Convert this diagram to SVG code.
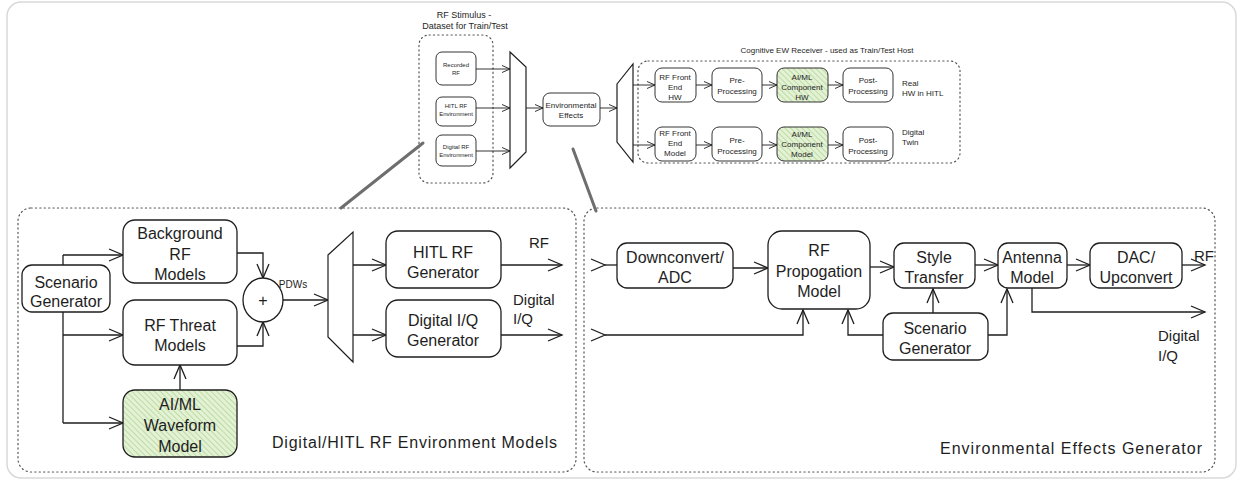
<svg xmlns="http://www.w3.org/2000/svg" width="1238" height="482" viewBox="0 0 1238 482">
  <style>
    .frame { fill: #ffffff; stroke: #d9d9d9; stroke-width: 1.5; }
    .group { fill: none; stroke: #555; stroke-width: 1.2; stroke-dasharray: 1.2 3.2; stroke-linecap: round; }
    .box { fill: #ffffff; stroke: #1e1e1e; stroke-width: 1.3; }
    .sbox { fill: #ffffff; stroke: #1e1e1e; stroke-width: 0.9; }
    .green { fill: url(#hatch); stroke: #1e1e1e; stroke-width: 1.3; }
    .sgreen { fill: url(#hatch); stroke: #1e1e1e; stroke-width: 0.9; }
    .mux { fill: #ffffff; stroke: #1e1e1e; stroke-width: 1.2; }
    .wire { fill: none; stroke: #1e1e1e; stroke-width: 1.3; marker-end: url(#head); }
    .wire-plain { fill: none; stroke: #1e1e1e; stroke-width: 1.3; }
    .swire { fill: none; stroke: #1e1e1e; stroke-width: 0.9; marker-end: url(#shead); }
    .zoomline { stroke: #6e6e6e; stroke-width: 3; stroke-linecap: round; }
    text { font-family: "Liberation Sans", "DejaVu Sans", sans-serif; fill: #1e1e1e; }
    .t16 { font-size: 16px; text-anchor: middle; dominant-baseline: central; }
    .lbl { font-size: 15px; dominant-baseline: central; }
    .t8 { font-size: 8px; text-anchor: middle; dominant-baseline: central; }
    .t6 { font-size: 6px; text-anchor: middle; dominant-baseline: central; }
    .s8 { font-size: 8px; dominant-baseline: central; }
  </style>
  <defs>
    <pattern id="hatch" patternUnits="userSpaceOnUse" width="4" height="4" patternTransform="rotate(-45)">
      <rect width="4" height="4" fill="#e3f1d5"/>
      <line x1="0" y1="0" x2="0" y2="4" stroke="#a6cf85" stroke-width="1.2"/>
    </pattern>
    <marker id="head" viewBox="-16 -8 18 16" refX="0" refY="0" markerWidth="18" markerHeight="16" markerUnits="userSpaceOnUse" orient="auto">
      <path d="M-14,-6 L0,0 L-14,6" fill="none" stroke="#1e1e1e" stroke-width="1.3"/>
    </marker>
    <marker id="shead" viewBox="-10 -5 12 10" refX="0" refY="0" markerWidth="12" markerHeight="10" markerUnits="userSpaceOnUse" orient="auto">
      <path d="M-8,-3.5 L0,0 L-8,3.5" fill="none" stroke="#1e1e1e" stroke-width="0.9"/>
    </marker>
  </defs>

  <!-- card background -->
  <rect class="frame" x="7" y="2" width="1229" height="476" rx="14"/>

  <!-- group outlines -->
  <g id="groups">
    <rect class="group" x="419" y="35" width="74" height="148" rx="10"/>
    <rect class="group" x="638" y="61" width="322" height="102" rx="10"/>
    <rect class="group" x="18" y="208" width="558" height="264" rx="13"/>
    <rect class="group" x="584" y="208" width="631" height="264" rx="13"/>
  </g>

  <!-- callout lines linking the overview to the detail panels -->
  <g id="callouts">
    <line class="zoomline" x1="341" y1="208" x2="423" y2="143"/>
    <line class="zoomline" x1="573" y1="149" x2="596" y2="211"/>
  </g>

  <!-- captions -->
  <g id="captions">
    <text class="t8" x="464" y="15" style="font-size:9px">RF Stimulus -</text>
    <text class="t8" x="465" y="26" style="font-size:9px">Dataset for Train/Test</text>
    <text class="t8" x="827" y="50">Cognitive EW Receiver - used as Train/Test Host</text>
    <text class="s8" x="902" y="83">Real</text>
    <text class="s8" x="902" y="93">HW in HITL</text>
    <text class="s8" x="902" y="132">Digital</text>
    <text class="s8" x="902" y="142">Twin</text>
    <text class="lbl" x="272" y="442" style="font-size:16px" textLength="285" lengthAdjust="spacing">Digital/HITL RF Environment Models</text>
    <text class="lbl" x="940" y="448" style="font-size:16px" textLength="262" lengthAdjust="spacing">Environmental Effects Generator</text>
    <text class="lbl" x="293" y="284" style="font-size:10px;text-anchor:middle">PDWs</text>
    <text class="lbl" x="539" y="242" style="text-anchor:middle">RF</text>
    <text class="lbl" x="513" y="299">Digital</text>
    <text class="lbl" x="513" y="318">I/Q</text>
    <text class="lbl" x="1194" y="255">RF</text>
    <text class="lbl" x="1158" y="335">Digital</text>
    <text class="lbl" x="1158" y="355">I/Q</text>
  </g>

  <!-- connectors -->
  <g id="connectors">
    <!-- stimulus section -->
    <line class="swire" x1="476" y1="69" x2="510" y2="69"/>
    <line class="swire" x1="476" y1="108" x2="510" y2="108"/>
    <line class="swire" x1="476" y1="151" x2="510" y2="151"/>
    <line class="swire" x1="526" y1="108" x2="543" y2="108"/>
    <line class="swire" x1="600" y1="108" x2="617" y2="108"/>
    <!-- receiver rows -->
    <line class="swire" x1="633" y1="85" x2="655" y2="85"/>
    <line class="swire" x1="696" y1="85" x2="712" y2="85"/>
    <line class="swire" x1="762" y1="85" x2="777" y2="85"/>
    <line class="swire" x1="828" y1="85" x2="843" y2="85"/>
    <line class="swire" x1="633" y1="145" x2="655" y2="145"/>
    <line class="swire" x1="696" y1="145" x2="712" y2="145"/>
    <line class="swire" x1="762" y1="145" x2="777" y2="145"/>
    <line class="swire" x1="828" y1="145" x2="843" y2="145"/>

    <!-- environment models -->
    <path class="wire-plain" d="M63,265 V255"/>
    <path class="wire" d="M63,255 H123"/>
    <path class="wire-plain" d="M63,312 V423"/>
    <path class="wire" d="M63,335 H123"/>
    <path class="wire" d="M63,423 H123"/>
    <path class="wire" d="M180,390 V365"/>
    <path class="wire" d="M237,253 H263 V278"/>
    <path class="wire" d="M237,346 H263 V322"/>
    <path class="wire" d="M283,300 H328"/>
    <path class="wire" d="M353,265 H386"/>
    <path class="wire" d="M353,335 H386"/>
    <path class="wire" d="M501,265 H562"/>
    <path class="wire" d="M501,335 H562"/>

    <!-- environmental effects: incoming feeds enter at the panel edge -->
    <path class="wire-plain" d="M591,259 L605,265 L591,271"/>
    <path class="wire-plain" d="M605,265 H617"/>
    <path class="wire-plain" d="M591,329 L605,335 L591,341"/>
    <path class="wire" d="M605,335 H803 V310"/>
    <path class="wire" d="M733,268 H768"/>
    <path class="wire" d="M870,267 H894"/>
    <path class="wire" d="M883,335 H848 V310"/>
    <path class="wire" d="M933,313 V289"/>
    <path class="wire" d="M975,265 H998"/>
    <path class="wire" d="M988,335 H1007 V289"/>
    <path class="wire" d="M1067,265 H1090"/>
    <path class="wire" d="M1182,265 H1205"/>
    <path class="wire" d="M1032,288 V312 H1205"/>
  </g>

  <!-- stimulus sources -->
  <g id="recorded-rf">
    <rect class="sbox" x="436" y="52" width="40" height="33" rx="6"/>
    <text class="t6" x="456" y="65">Recorded</text>
    <text class="t6" x="456" y="73">RF</text>
  </g>
  <g id="hitl-rf-env">
    <rect class="sbox" x="436" y="97" width="40" height="29" rx="6"/>
    <text class="t6" x="456" y="106">HITL RF</text>
    <text class="t6" x="456" y="114">Environment</text>
  </g>
  <g id="digital-rf-env">
    <rect class="sbox" x="436" y="135" width="40" height="31" rx="6"/>
    <text class="t6" x="456" y="147">Digital RF</text>
    <text class="t6" x="456" y="155">Environment</text>
  </g>
  <g id="stimulus-mux">
    <polygon class="mux" points="510,52 526,67 526,152 510,168"/>
  </g>
  <g id="environmental-effects">
    <rect class="sbox" x="543" y="93" width="57" height="33" rx="7"/>
    <text class="t8" x="571" y="105">Environmental</text>
    <text class="t8" x="571" y="115">Effects</text>
  </g>
  <g id="receiver-demux">
    <polygon class="mux" points="617,84 633,64 633,162 617,142"/>
  </g>

  <!-- receiver, hardware row -->
  <g id="rf-front-end-hw">
    <rect class="sbox" x="655" y="68" width="41" height="34" rx="7"/>
    <text class="t8" x="675" y="77">RF Front</text>
    <text class="t8" x="675" y="87">End</text>
    <text class="t8" x="675" y="97">HW</text>
  </g>
  <g id="pre-processing-hw">
    <rect class="sbox" x="712" y="68" width="50" height="34" rx="7"/>
    <text class="t8" x="737" y="80">Pre-</text>
    <text class="t8" x="737" y="91">Processing</text>
  </g>
  <g id="aiml-component-hw">
    <rect class="sgreen" x="777" y="68" width="51" height="34" rx="7"/>
    <text class="t8" x="802" y="77">AI/ML</text>
    <text class="t8" x="802" y="87">Component</text>
    <text class="t8" x="802" y="97">HW</text>
  </g>
  <g id="post-processing-hw">
    <rect class="sbox" x="843" y="68" width="50" height="34" rx="7"/>
    <text class="t8" x="868" y="80">Post-</text>
    <text class="t8" x="868" y="91">Processing</text>
  </g>

  <!-- receiver, digital twin row -->
  <g id="rf-front-end-model">
    <rect class="sbox" x="655" y="127" width="41" height="34" rx="7"/>
    <text class="t8" x="675" y="133">RF Front</text>
    <text class="t8" x="675" y="143">End</text>
    <text class="t8" x="675" y="153">Model</text>
  </g>
  <g id="pre-processing-model">
    <rect class="sbox" x="712" y="127" width="50" height="34" rx="7"/>
    <text class="t8" x="737" y="140">Pre-</text>
    <text class="t8" x="737" y="151">Processing</text>
  </g>
  <g id="aiml-component-model">
    <rect class="sgreen" x="777" y="127" width="51" height="34" rx="7"/>
    <text class="t8" x="802" y="134">AI/ML</text>
    <text class="t8" x="802" y="144">Component</text>
    <text class="t8" x="802" y="154">Model</text>
  </g>
  <g id="post-processing-model">
    <rect class="sbox" x="843" y="127" width="50" height="34" rx="7"/>
    <text class="t8" x="868" y="140">Post-</text>
    <text class="t8" x="868" y="151">Processing</text>
  </g>

  <!-- digital / HITL RF environment models -->
  <g id="scenario-generator-left">
    <rect class="box" x="22" y="265" width="88" height="47" rx="10"/>
    <text class="t16" x="66" y="282">Scenario</text>
    <text class="t16" x="66" y="301">Generator</text>
  </g>
  <g id="background-rf-models">
    <rect class="box" x="123" y="220" width="114" height="63" rx="12"/>
    <text class="t16" x="180" y="233">Background</text>
    <text class="t16" x="180" y="254">RF</text>
    <text class="t16" x="180" y="274">Models</text>
  </g>
  <g id="rf-threat-models">
    <rect class="box" x="123" y="300" width="114" height="65" rx="12"/>
    <text class="t16" x="180" y="325">RF Threat</text>
    <text class="t16" x="180" y="345">Models</text>
  </g>
  <g id="aiml-waveform-model">
    <rect class="green" x="123" y="390" width="114" height="67" rx="12"/>
    <text class="t16" x="180" y="404">AI/ML</text>
    <text class="t16" x="180" y="425">Waveform</text>
    <text class="t16" x="180" y="446">Model</text>
  </g>
  <g id="summer">
    <ellipse class="box" cx="263" cy="300" rx="20" ry="22"/>
    <text class="t16" x="263" y="300">+</text>
  </g>
  <g id="pdw-mux">
    <polygon class="mux" points="328,255 353,232 353,362 328,337"/>
  </g>
  <g id="hitl-rf-generator">
    <rect class="box" x="386" y="231" width="115" height="57" rx="12"/>
    <text class="t16" x="443" y="252">HITL RF</text>
    <text class="t16" x="443" y="272">Generator</text>
  </g>
  <g id="digital-iq-generator">
    <rect class="box" x="386" y="300" width="115" height="57" rx="12"/>
    <text class="t16" x="443" y="320">Digital I/Q</text>
    <text class="t16" x="443" y="340">Generator</text>
  </g>

  <!-- environmental effects generator -->
  <g id="downconvert-adc">
    <rect class="box" x="617" y="243" width="116" height="45" rx="10"/>
    <text class="t16" x="675" y="257">Downconvert/</text>
    <text class="t16" x="675" y="277">ADC</text>
  </g>
  <g id="rf-propagation-model">
    <rect class="box" x="768" y="231" width="102" height="78" rx="14"/>
    <text class="t16" x="819" y="250">RF</text>
    <text class="t16" x="819" y="271">Propogation</text>
    <text class="t16" x="819" y="291">Model</text>
  </g>
  <g id="style-transfer">
    <rect class="box" x="894" y="243" width="81" height="45" rx="10"/>
    <text class="t16" x="934" y="257">Style</text>
    <text class="t16" x="934" y="277">Transfer</text>
  </g>
  <g id="scenario-generator-right">
    <rect class="box" x="883" y="313" width="105" height="47" rx="10"/>
    <text class="t16" x="935" y="328">Scenario</text>
    <text class="t16" x="935" y="348">Generator</text>
  </g>
  <g id="antenna-model">
    <rect class="box" x="998" y="243" width="69" height="45" rx="10"/>
    <text class="t16" x="1032" y="257">Antenna</text>
    <text class="t16" x="1032" y="277">Model</text>
  </g>
  <g id="dac-upconvert">
    <rect class="box" x="1090" y="243" width="92" height="45" rx="10"/>
    <text class="t16" x="1136" y="257">DAC/</text>
    <text class="t16" x="1136" y="277">Upconvert</text>
  </g>
</svg>
